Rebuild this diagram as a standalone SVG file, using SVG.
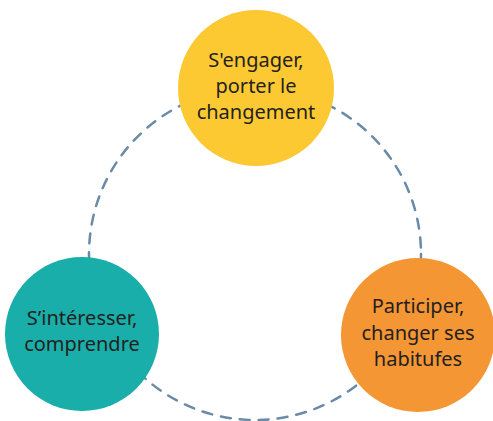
<svg xmlns="http://www.w3.org/2000/svg" width="493" height="421" viewBox="0 0 493 421">
<style>
.lbl{font-family:"Noto Sans","DejaVu Sans",sans-serif;font-size:20px;fill:#231f20;text-anchor:middle}
.ring{fill:none;stroke:#6a8aa8;stroke-width:2.5;stroke-dasharray:10 9;stroke-linecap:round}
</style>
<rect width="493" height="421" fill="#ffffff"/>
<g id="connectors">
<circle class="ring" cx="255" cy="254" r="166"/>
</g>
<g id="node-engager">
<circle cx="256" cy="88" r="78" fill="#fdc933"/>
<text class="lbl" x="256" y="67">S'engager,</text>
<text class="lbl" x="256" y="93">porter le</text>
<text class="lbl" x="256" y="119">changement</text>
</g>
<g id="node-interesser">
<circle cx="82" cy="334" r="77" fill="#19aea9"/>
<text class="lbl" x="82" y="325">S’intéresser,</text>
<text class="lbl" x="82" y="351">comprendre</text>
</g>
<g id="node-participer">
<circle cx="418" cy="335" r="77" fill="#f49634"/>
<text class="lbl" x="418" y="313">Participer,</text>
<text class="lbl" x="418" y="340">changer ses</text>
<text class="lbl" x="418" y="366">habitufes</text>
</g>
</svg>
